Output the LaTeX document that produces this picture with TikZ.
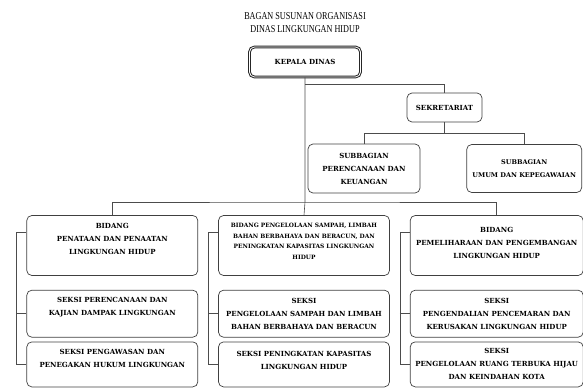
\documentclass[tikz,border=0pt]{standalone}
\usepackage{fontspec}
\setmainfont{DejaVu Serif}
\newfontfamily\judulfont[FakeStretch=0.78]{Liberation Serif}
\usetikzlibrary{positioning}

\tikzset{
  unit/.style = {draw=black!75, line width=0.7pt, rounded corners=5pt, align=center, inner sep=2pt,
                 font=\bfseries\fontsize{7}{13}\selectfont},
  bidang/.style = {unit, minimum width=171pt, minimum height=60pt},
  seksi/.style = {unit, minimum width=171pt},
  naik/.style = {text depth=#1},
  garis/.style = {draw=black!70, line width=0.6pt},
}

\begin{document}
\begin{tikzpicture}[x=1pt, y=-1pt]
  \useasboundingbox (0,0) rectangle (583,390);

  \node[align=center, inner sep=0pt, font=\judulfont\fontsize{10.5}{13}\selectfont] (judul) at (305,22.5)
       {BAGAN SUSUNAN ORGANISASI\\DINAS LINGKUNGAN HIDUP};

  \node[unit, minimum width=111pt, minimum height=30pt, line width=1pt, double=white,
        double distance=0.8pt, draw=black!85] (kepala) at (305,62) {KEPALA DINAS};
  \node[unit, minimum width=75pt, minimum height=29pt] (sekre) at (444.5,107.5) {SEKRETARIAT};
  \node[unit, minimum width=112pt, minimum height=49pt] (subA) at (364,168.5)
       {SUBBAGIAN\\PERENCANAAN DAN\\KEUANGAN};
  \node[unit, minimum width=115pt, minimum height=48pt, font=\bfseries\fontsize{6.5}{13}\selectfont]
       (subB) [right=46pt of subA] {SUBBAGIAN\\UMUM DAN KEPEGAWAIAN};

  % bidang
  \node[bidang, naik=8pt, font=\bfseries\fontsize{5.9}{10.5}\selectfont] (bidB) at (304,245.5)
       {BIDANG PENGELOLAAN SAMPAH, LIMBAH\\BAHAN BERBAHAYA DAN BERACUN, DAN\\PENINGKATAN KAPASITAS LINGKUNGAN\\HIDUP};
  \node[bidang, naik=14pt] (bidA) [left=20pt of bidB]
       {BIDANG\\PENATAAN DAN PENAATAN\\LINGKUNGAN HIDUP};
  \node[bidang, naik=6pt, minimum width=173pt] (bidC) [right=20pt of bidB]
       {BIDANG\\PEMELIHARAAN DAN PENGEMBANGAN\\LINGKUNGAN HIDUP};

  % seksi
  \node[seksi, minimum height=47pt, naik=14pt] (sekA1) [below=14pt of bidA]
       {SEKSI PERENCANAAN DAN\\KAJIAN DAMPAK LINGKUNGAN};
  \node[seksi, minimum height=45pt, naik=12pt] (sekA2) [below=4pt of sekA1]
       {SEKSI PENGAWASAN DAN\\PENEGAKAN HUKUM LINGKUNGAN};
  \node[seksi, minimum height=47pt] (sekB1) [below=14pt of bidB]
       {SEKSI\\PENGELOLAAN SAMPAH DAN LIMBAH\\BAHAN BERBAHAYA DAN BERACUN};
  \node[seksi, minimum height=45pt, naik=8pt] (sekB2) [below=4pt of sekB1]
       {SEKSI PENINGKATAN KAPASITAS\\LINGKUNGAN HIDUP};
  \node[seksi, minimum height=47pt, minimum width=173pt] (sekC1) [below=14pt of bidC]
       {SEKSI\\PENGENDALIAN PENCEMARAN DAN\\KERUSAKAN LINGKUNGAN HIDUP};
  \node[seksi, minimum height=45pt, minimum width=173pt] (sekC2) [below=4pt of sekC1]
       {SEKSI\\PENGELOLAAN RUANG TERBUKA HIJAU\\DAN KEINDAHAN KOTA};

  % garis komando
  \coordinate (bus) at (kepala.south |- 0,202);
  \draw[garis] (kepala.south) -- (bus) -- (bidB.north);
  \draw[garis] (bidA.north) |- (bus) -| (bidC.north);
  \draw[garis] ([yshift=-7pt]kepala.south) -| (sekre.north);
  \draw[garis] (sekre.south) -- ++(0,11) coordinate (cabang);
  \draw[garis] (subA.north) |- (cabang) -| (subB.north);

  % garis seksi
  \draw[garis] ([yshift=-17.5pt]bidA.north west) -- ++(-10,0) coordinate (kA) |- (sekA2.west);
  \draw[garis] (kA |- sekA1.west) -- (sekA1.west);
  \draw[garis] ([yshift=-17.5pt]bidB.north west) -- ++(-10,0) coordinate (kB) |- (sekB2.west);
  \draw[garis] (kB |- sekB1.west) -- (sekB1.west);
  \draw[garis] ([yshift=-17.5pt]bidC.north west) -- ++(-10,0) coordinate (kC) |- (sekC2.west);
  \draw[garis] (kC |- sekC1.west) -- (sekC1.west);
\end{tikzpicture}
\end{document}
